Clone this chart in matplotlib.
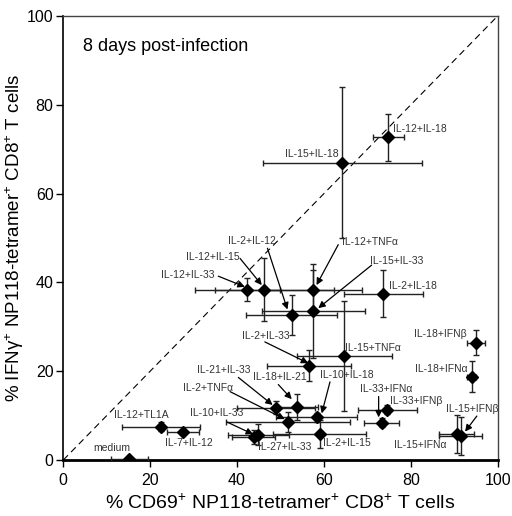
import matplotlib
matplotlib.use("Agg")
import matplotlib.pyplot as plt

plt.rcParams['font.family'] = ['Liberation Sans', 'DejaVu Sans']
plt.rcParams['mathtext.fontset'] = 'custom'
plt.rcParams['mathtext.rm'] = 'Liberation Sans'
plt.rcParams['mathtext.it'] = 'Liberation Sans:italic'

# data: % CD69+ (x) and % IFNg+ (y), with error
names = ['medium', 'IL-12+TL1A', 'IL-7+IL-12', 'IL-27+IL-33', 'IL-10+IL-33',
         'IL-21+IL-33', 'IL-2+TNFα', 'IL-18+IL-21', 'IL-10+IL-18', 'IL-2+IL-15',
         'IL-2+IL-33', 'IL-15+TNFα', 'IL-12+IL-33', 'IL-12+IL-15', 'IL-12+TNFα',
         'IL-2+IL-12', 'IL-15+IL-33', 'IL-2+IL-18', 'IL-15+IL-18', 'IL-12+IL-18',
         'IL-18+IFNβ', 'IL-18+IFNα', 'IL-33+IFNα', 'IL-33+IFNβ', 'IL-15+IFNβ',
         'IL-15+IFNα']
cd69 = [15.2, 22.5, 27.5, 43.8, 44.9, 49.0, 51.7, 53.7, 58.3, 59.0,
        56.6, 64.7, 42.4, 46.3, 57.6, 52.6, 57.6, 73.7, 64.2, 74.8,
        95.0, 94.0, 73.3, 74.6, 91.5, 90.6]
cd69_err = [4.3, 9.0, 3.7, 5.0, 7.0, 9.0, 14.3, 5.0, 9.3, 10.8,
            9.7, 10.9, 7.5, 16.0, 11.2, 10.5, 11.9, 9.0, 18.3, 3.6,
            2.1, 1.1, 4.1, 6.8, 5.0, 4.0]
ifng = [0.3, 7.5, 6.4, 5.2, 5.7, 11.8, 8.6, 12.0, 9.6, 5.9,
        21.2, 23.5, 38.4, 38.4, 38.4, 32.7, 33.6, 37.5, 67.0, 72.7,
        26.4, 18.8, 8.4, 11.3, 5.5, 5.8]
ifng_err = [0.0, 1.0, 0.6, 1.5, 2.3, 1.5, 2.3, 2.9, 1.0, 3.2,
            3.5, 12.4, 2.5, 7.1, 4.4, 4.5, 10.6, 5.3, 17.1, 5.3,
            2.8, 3.4, 1.0, 1.0, 4.3, 4.3]

# label placement: name -> (text x, text y, arrow tail, arrow head)
labels = {
    'medium': (11.1, 2.8, None, None),
    'IL-12+TL1A': (18.0, 10.1, None, None),
    'IL-7+IL-12': (28.8, 3.8, None, None),
    'IL-10+IL-33': (35.3, 10.7, (37.6, 8.6), (43.7, 5.8)),
    'IL-27+IL-33': (51.0, 3.0, None, None),
    'IL-21+IL-33': (36.9, 20.3, (40.3, 18.6), (48.2, 12.4)),
    'IL-2+TNFα': (33.4, 16.3, (38.4, 15.4), (51.0, 9.2)),
    'IL-18+IL-21': (49.9, 18.8, (49.5, 17.0), (52.6, 13.7)),
    'IL-10+IL-18': (65.2, 19.1, (61.4, 17.6), (59.5, 10.5)),
    'IL-2+IL-15': (65.2, 3.9, None, None),
    'IL-2+IL-33': (46.7, 27.9, (46.4, 26.6), (56.4, 21.8)),
    'IL-15+TNFα': (71.2, 25.2, None, None),
    'IL-12+IL-33': (28.7, 41.7, (35.7, 41.4), (41.8, 39.0)),
    'IL-12+IL-15': (34.5, 45.8, (40.7, 45.4), (45.7, 39.4)),
    'IL-2+IL-12': (43.4, 49.4, (47.0, 47.7), (51.6, 33.9)),
    'IL-12+TNFα': (70.6, 49.2, (63.3, 48.5), (58.3, 39.4)),
    'IL-15+IL-33': (76.7, 44.9, (71.0, 43.9), (58.7, 34.2)),
    'IL-2+IL-18': (80.4, 39.2, None, None),
    'IL-15+IL-18': (57.2, 68.9, None, None),
    'IL-12+IL-18': (82.1, 74.5, None, None),
    'IL-18+IFNβ': (86.9, 28.3, None, None),
    'IL-18+IFNα': (87.0, 20.4, None, None),
    'IL-33+IFNα': (74.3, 15.9, (72.6, 14.3), (72.6, 9.6)),
    'IL-33+IFNβ': (81.2, 13.3, None, None),
    'IL-15+IFNβ': (94.2, 11.6, (95.2, 9.9), (92.5, 6.4)),
    'IL-15+IFNα': (82.1, 3.4, None, None),
}

fig = plt.figure(figsize=(5.12, 5.16), dpi=100)
ax = fig.add_axes([0.1236, 0.1085, 0.8484, 0.8605])

ax.plot([0, 100], [0, 100], ls=(0, (6, 4)), color='k', lw=0.8, zorder=1)

ax.errorbar(cd69, ifng, xerr=cd69_err, yerr=ifng_err, fmt='D', color='k',
            ecolor='#222222', elinewidth=1.0, capsize=2.5, capthick=1.0,
            markersize=6.5, zorder=3)

for n in names:
    tx, ty, tail, head = labels[n]
    ax.text(tx, ty, n, fontsize=7.5, ha='center', va='center', color='#333333', zorder=4)
    if tail is not None:
        ax.annotate('', xy=head, xytext=tail,
                    arrowprops=dict(arrowstyle='-|>', lw=0.9, color='k',
                                    shrinkA=0, shrinkB=0, mutation_scale=10),
                    zorder=4)

ax.text(4.6, 93.1, '8 days post-infection', fontsize=13, ha='left', va='center')

ax.set_xlim(0, 100)
ax.set_ylim(0, 100)
ax.set_xticks(range(0, 101, 20))
ax.set_yticks(range(0, 101, 20))
ax.tick_params(direction='out', length=5, width=1, labelsize=11.5, pad=4)
ax.tick_params(axis='y', pad=2)
ax.tick_params(top=False, right=False)

ax.spines['bottom'].set_linewidth(2)
ax.spines['left'].set_linewidth(1.2)
for s in ['top', 'right']:
    ax.spines[s].set_linewidth(1)
    ax.spines[s].set_color('#444444')

ax.set_xlabel('% CD69$^{+}$ NP118-tetramer$^{+}$ CD8$^{+}$ T cells', fontsize=14, labelpad=4)
ax.set_ylabel('% IFNγ$^{+}$ NP118-tetramer$^{+}$ CD8$^{+}$ T cells', fontsize=13.5, labelpad=1)

fig.savefig('out.png', dpi=100)
